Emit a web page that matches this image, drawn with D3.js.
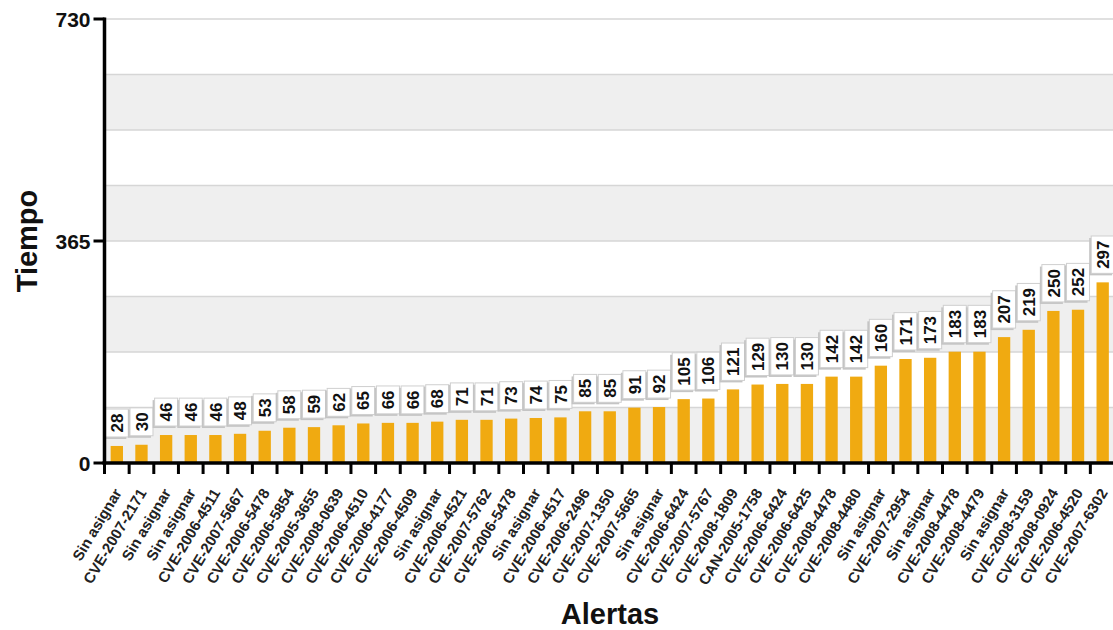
<!DOCTYPE html>
<html>
<head>
<meta charset="utf-8">
<script src="https://cdn.jsdelivr.net/npm/d3@7"></script>
<style>
  body { margin: 0; background: #fff; }
  svg { display: block; font-family: "Liberation Sans", Arial, sans-serif; }
</style>
</head>
<body>
<svg id="chart" width="1113" height="630"></svg>
<script>
// Alert identifiers along the x axis
const alertas = [
  "Sin asignar", "CVE-2007-2171", "Sin asignar", "Sin asignar", "CVE-2006-4511",
  "CVE-2007-5667", "CVE-2006-5478", "CVE-2006-5854", "CVE-2005-3655", "CVE-2008-0639",
  "CVE-2006-4510", "CVE-2006-4177", "CVE-2006-4509", "Sin asignar", "CVE-2006-4521",
  "CVE-2007-5762", "CVE-2006-5478", "Sin asignar", "CVE-2006-4517", "CVE-2006-2496",
  "CVE-2007-1350", "CVE-2007-5665", "Sin asignar", "CVE-2006-6424", "CVE-2007-5767",
  "CVE-2008-1809", "CAN-2005-1758", "CVE-2006-6424", "CVE-2006-6425", "CVE-2008-4478",
  "CVE-2008-4480", "Sin asignar", "CVE-2007-2954", "Sin asignar", "CVE-2008-4478",
  "CVE-2008-4479", "Sin asignar", "CVE-2008-3159", "CVE-2008-0924", "CVE-2006-4520",
  "CVE-2007-6302"
];

// Time per alert
const tiempo = [
  28, 30, 46, 46, 46, 48, 53, 58, 59, 62, 65, 66, 66, 68, 71, 71, 73, 74, 75, 85,
  85, 91, 92, 105, 106, 121, 129, 130, 130, 142, 142, 160, 171, 173, 183, 183, 207, 219, 250, 252,
  297
];

// Labelled y ticks and the grid step used for the alternating bands
const yTicks = [0, 365, 730];
const yMax = 730;
const bandCount = 8;

const svg = d3.select("#chart");
const plotLeft = 104.5, plotRight = 1115, plotTop = 19, plotBottom = 463;

const data = alertas.map((name, i) => ({ key: i, name, value: tiempo[i] }));

const x = d3.scaleBand()
  .domain(data.map(d => d.key))
  .range([plotLeft, plotRight])
  .paddingInner(0.5)
  .paddingOuter(0.25);

const y = d3.scaleLinear().domain([0, yMax]).range([plotBottom, plotTop]);

// Alternating background bands
const bandEdges = d3.range(bandCount + 1).map(i => i * yMax / bandCount);
svg.append("g").selectAll("rect")
  .data(d3.range(bandCount))
  .join("rect")
  .attr("x", plotLeft)
  .attr("width", plotRight - plotLeft)
  .attr("y", i => y(bandEdges[i + 1]))
  .attr("height", i => y(bandEdges[i]) - y(bandEdges[i + 1]))
  .attr("fill", i => i % 2 === 0 ? "#efefef" : "#ffffff");

svg.append("g").selectAll("line")
  .data(bandEdges.slice(1))
  .join("line")
  .attr("x1", plotLeft).attr("x2", plotRight)
  .attr("y1", d => y(d)).attr("y2", d => y(d))
  .attr("stroke", "#d6d6d6")
  .attr("stroke-width", 1.5);

// Bars
svg.append("g").selectAll("rect")
  .data(data)
  .join("rect")
  .attr("x", d => x(d.key))
  .attr("width", x.bandwidth())
  .attr("y", d => y(d.value))
  .attr("height", d => y(0) - y(d.value))
  .attr("fill", "#f0aa11");

// Value tags: rotated numbers in small shadowed boxes above each bar
const tagFont = 17;
const tags = svg.append("g").selectAll("g")
  .data(data)
  .join("g")
  .attr("transform", d => `translate(${x(d.key) + x.bandwidth() / 2},${y(d.value) - 9})`);

tags.each(function(d) {
  const g = d3.select(this);
  const txt = String(d.value);
  const h = txt.length * tagFont * 0.556 + 9;
  const w = 23;
  g.append("rect")
    .attr("x", -w / 2 - 2).attr("y", -h + 2)
    .attr("width", w).attr("height", h)
    .attr("fill", "#c4c4c4");
  g.append("rect")
    .attr("x", -w / 2).attr("y", -h)
    .attr("width", w).attr("height", h)
    .attr("fill", "#ffffff")
    .attr("stroke", "#cfcfcf")
    .attr("stroke-width", 1);
  g.append("text")
    .attr("transform", `translate(0,${-h / 2}) rotate(-90)`)
    .attr("text-anchor", "middle")
    .attr("dy", "0.36em")
    .attr("font-size", tagFont)
    .attr("font-weight", "bold")
    .attr("fill", "#111")
    .text(txt);
});

// X axis
const xAxis = svg.append("g")
  .attr("transform", `translate(0,${plotBottom})`);
xAxis.append("line")
  .attr("x1", plotLeft - 2).attr("x2", plotRight)
  .attr("stroke", "#000").attr("stroke-width", 3.5);
xAxis.selectAll("line.tick")
  .data(data.map(d => x(d.key) - x.step() * x.paddingInner() / 2).concat([plotRight - 0.01]))
  .join("line")
  .attr("class", "tick")
  .attr("x1", d => d).attr("x2", d => d)
  .attr("y1", 0).attr("y2", 11)
  .attr("stroke", "#000").attr("stroke-width", 3);

xAxis.selectAll("text")
  .data(data)
  .join("text")
  .attr("transform", d => `translate(${x(d.key) + x.bandwidth() / 2 + 1},${27}) rotate(-59)`)
  .attr("text-anchor", "end")
  .attr("dy", "0.35em")
  .attr("font-size", 15)
  .attr("font-weight", "bold")
  .attr("fill", "#222")
  .text(d => d.name);

// Y axis
const yAxis = svg.append("g");
yAxis.append("line")
  .attr("x1", plotLeft).attr("x2", plotLeft)
  .attr("y1", plotTop - 1.5).attr("y2", plotBottom + 1.5)
  .attr("stroke", "#000").attr("stroke-width", 3.5);
yAxis.selectAll("line.tick")
  .data(yTicks)
  .join("line")
  .attr("class", "tick")
  .attr("x1", plotLeft - 11).attr("x2", plotLeft)
  .attr("y1", d => y(d)).attr("y2", d => y(d))
  .attr("stroke", "#000").attr("stroke-width", 3);
yAxis.selectAll("text")
  .data(yTicks)
  .join("text")
  .attr("x", plotLeft - 14)
  .attr("y", d => y(d))
  .attr("dy", "0.36em")
  .attr("text-anchor", "end")
  .attr("font-size", 21)
  .attr("font-weight", "bold")
  .attr("fill", "#111")
  .text(d => d);

// Axis titles
svg.append("text")
  .attr("transform", `translate(37,${(plotTop + plotBottom) / 2}) rotate(-90)`)
  .attr("text-anchor", "middle")
  .attr("font-size", 29)
  .attr("font-weight", "bold")
  .attr("fill", "#111")
  .text("Tiempo");

svg.append("text")
  .attr("x", 610)
  .attr("y", 624)
  .attr("text-anchor", "middle")
  .attr("font-size", 29)
  .attr("font-weight", "bold")
  .attr("fill", "#111")
  .text("Alertas");
</script>
</body>
</html>
